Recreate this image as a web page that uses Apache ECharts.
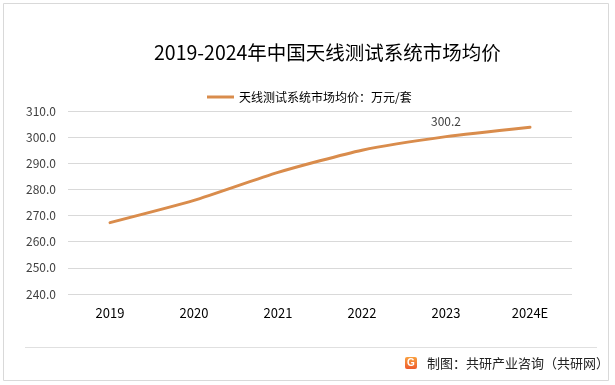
<!DOCTYPE html>
<html><head><meta charset="utf-8">
<script src="https://cdn.jsdelivr.net/npm/echarts@6/dist/echarts.min.js"></script>
<style>html,body{margin:0;padding:0;background:#fff}#c{width:615px;height:385px}</style>
</head><body><div id="c"></div>
<script>
const categories = ['2019','2020','2021','2022','2023','2024E'];
const prices = [267.3, 275.8, 286.5, 295.0, 300.2, 303.8];
const yTicks = [240, 250, 260, 270, 280, 290, 300, 310];
const seriesName = '天线测试系统市场均价：万元/套';
const titleText = '2019-2024年中国天线测试系统市场均价';
const footerText = '制图：共研产业咨询（共研网）';
const labeledIndex = 4;

const chart = echarts.init(document.getElementById('c'));
const font = '"Microsoft YaHei","Noto Sans CJK SC",sans-serif';
const lineColor = '#D98C4C';
chart.setOption({
  animation: false,
  title: { text: titleText, left: 149, top: 38,
    textStyle: { fontFamily: font, fontSize: 19.5, fontWeight: 'normal', color: '#000' } },
  legend: { top: 86, left: 202, itemWidth: 27, itemHeight: 3, itemGap: 6,
    icon: 'rect', itemStyle: { color: lineColor, opacity: 1 },
    textStyle: { fontFamily: font, fontSize: 12, color: '#000' },
    data: [seriesName] },
  grid: { left: 68, right: 43, top: 111, bottom: 91, containLabel: false },
  xAxis: { type: 'category', data: categories, boundaryGap: true,
    axisLine: { show: false }, axisTick: { show: false },
    axisLabel: { fontFamily: font, fontSize: 13, color: '#000', margin: 13 } },
  yAxis: { type: 'value', min: yTicks[0], max: yTicks[yTicks.length-1], interval: 10,
    axisLine: { show: false }, axisTick: { show: false },
    axisLabel: { fontFamily: font, fontSize: 12, color: '#404040', margin: 12,
      formatter: v => v.toFixed(1) },
    splitLine: { lineStyle: { color: '#d9d9d9', width: 1 } } },
  series: [{
    name: seriesName, type: 'line', data: prices.map((v,i) => ({
      value: v,
      label: i === labeledIndex ? { show: true, position: 'top', distance: 9,
        formatter: p => p.value.toFixed(1), fontFamily: font, fontSize: 12, color: '#404040' } : { show: false }
    })),
    smooth: 0.2, symbol: 'circle', symbolSize: 0, showSymbol: true,
    lineStyle: { color: lineColor, width: 3, cap: 'round' },
    itemStyle: { color: lineColor }
  }],
  graphic: [
    { type: 'rect', shape: { x: 3.5, y: 3.5, width: 605, height: 377 },
      style: { fill: 'none', stroke: '#d9d9d9', lineWidth: 1 }, z: 0 },
    { type: 'line', shape: { x1: 25, y1: 347.5, x2: 597, y2: 347.5 },
      style: { stroke: '#e0e0e0', lineWidth: 1 } },
    { type: 'rect', shape: { x: 405, y: 357, width: 12, height: 12, r: 2 },
      style: { fill: new echarts.graphic.LinearGradient(0,0,0,1,[{offset:0,color:'#F9A03F'},{offset:1,color:'#EE5A2C'}]) } },
    { type: 'text', style: { x: 411, y: 363.5, text: 'G', fill: '#fff', fontSize: 10, fontWeight: 'bold',
      fontFamily: 'Arial', align: 'center', verticalAlign: 'middle' } },
    { type: 'text', style: { x: 427, y: 363.5, text: footerText, fill: '#222', fontSize: 13,
      fontFamily: font, verticalAlign: 'middle' } }
  ]
});
</script></body></html>
